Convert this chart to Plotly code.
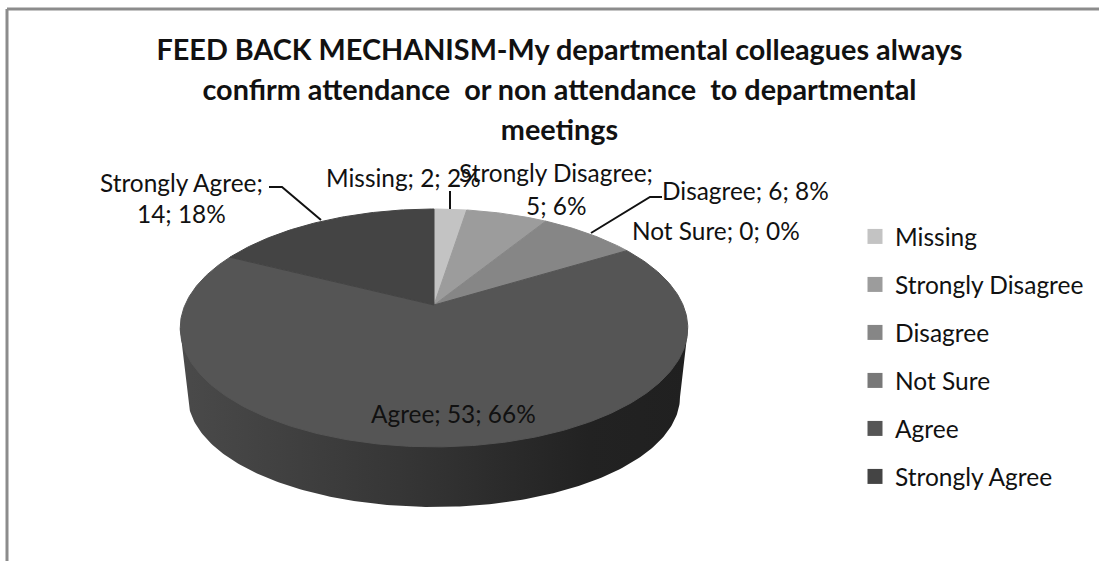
import numpy as np
import plotly.graph_objects as go

categories = ["Missing", "Strongly Disagree", "Disagree", "Not Sure", "Agree", "Strongly Agree"]
values = [2, 5, 6, 0, 53, 14]
percent_labels = ["2%", "6%", "8%", "0%", "66%", "18%"]
colors = ["#c3c3c3", "#9c9c9c", "#868686", "#787878", "#555555", "#444444"]
title_lines = ["FEED BACK MECHANISM-My departmental colleagues always",
               "confirm attendance  or non attendance  to departmental",
               "meetings"]

FONT = "Lato"
CX, CY, R, S, K = 434.0, 305.0, 249.0, 114.5, 0.193


def project(theta):
    u, v = np.sin(theta), np.cos(theta)
    d = 1 + K * v
    return CX + R * u / d, CY - S * v / d


fig = go.Figure()

# side wall of the disc: its upper edge is hidden under the top face
t = np.linspace(0, np.pi, 181)
bot_x = 434 + 246 * np.cos(t[::-1])
bot_y = 397 + 110 * np.sin(t[::-1])
fig.add_trace(go.Scatter(
    x=np.r_[180, bot_x, 688, 180],
    y=np.r_[328, bot_y, 328, 328], mode="lines", fill="toself",
    line=dict(width=0), showlegend=False, hoverinfo="skip",
    fillgradient=dict(type="horizontal", start=180, stop=690,
                      colorscale=[[0, "#4a4a4a"], [0.45, "#353535"], [0.8, "#222222"], [1, "#202020"]])))

# top face slices, computed from the values
total = sum(values)
start = 0.0
for name, val, col in zip(categories, values, colors):
    end = start + val / total * 2 * np.pi
    th = np.linspace(start, end, max(int(val * 6), 2))
    px, py = project(th)
    fig.add_trace(go.Scatter(
        x=np.r_[CX, px, CX], y=np.r_[CY, py, CY], mode="lines", fill="toself",
        fillcolor=col, line=dict(width=1 if val else 0, color=col), showlegend=False, name=name,
        hoverinfo="name"))
    start = end

# legend entries
for name, col in zip(categories, colors):
    fig.add_trace(go.Scatter(
        x=[None], y=[None], mode="markers", name=name, legendgroup=name,
        marker=dict(symbol="square", size=15, color=col)))

# leader lines
leaders = [([269, 282, 321], [187, 187, 220]),
           ([450, 450], [191, 209]),
           ([662, 650, 591], [197, 197, 233])]
for lx, ly in leaders:
    fig.add_trace(go.Scatter(x=lx, y=ly, mode="lines", line=dict(color="#111111", width=2),
                             showlegend=False, hoverinfo="skip"))

# data labels
label_lines = {
    0: [(403, 177, "{n}; {v}; {p}")],
    1: [(556, 172, "{n};"), (556, 205, "{v}; {p}")],
    2: [(745, 190, "{n}; {v}; {p}")],
    3: [(715.5, 230, "{n}; {v}; {p}")],
    4: [(453, 413, "{n}; {v}; {p}")],
    5: [(181, 182, "{n};"), (181, 213, "{v}; {p}")],
}
annotations = []
for i, rows in label_lines.items():
    for x, y, tpl in rows:
        annotations.append(dict(
            x=x, y=y, xref="x", yref="y", showarrow=False, xanchor="center", yanchor="middle",
            text=tpl.format(n=categories[i], v=values[i], p=percent_labels[i]),
            font=dict(family=FONT, size=24.4, color="#111111")))

title_text = "<br>".join('<span style="font-size:28.8px">%s</span>' % s for s in title_lines)

fig.update_layout(
    width=1099, height=561, margin=dict(l=0, r=0, t=0, b=0),
    paper_bgcolor="white", plot_bgcolor="white",
    xaxis=dict(range=[0, 1099], visible=False, fixedrange=True),
    yaxis=dict(range=[561, 0], visible=False, fixedrange=True),
    title=dict(text=title_text, x=559.5 / 1099, xanchor="center", xref="paper",
               y=1 - 60 / 561, yanchor="top",
               font=dict(family=FONT, size=30.8, color="#111111", weight="bold")),
    legend=dict(x=855 / 1099, y=1 - 214 / 561, xanchor="left", yanchor="top",
                font=dict(family=FONT, size=24.5, color="#111111"),
                tracegroupgap=13.15, bgcolor="rgba(0,0,0,0)", itemwidth=30),
    annotations=annotations,
    shapes=[
        dict(type="line", xref="x", yref="y", x0=7, x1=1099, y0=9, y1=9,
             line=dict(color="#8c8c8c", width=3)),
        dict(type="line", xref="x", yref="y", x0=7, x1=7, y0=9, y1=561,
             line=dict(color="#8c8c8c", width=3)),
    ],
)

fig.write_html("out.html", config={"displayModeBar": False},
               post_script="document.body.style.margin='0';")
